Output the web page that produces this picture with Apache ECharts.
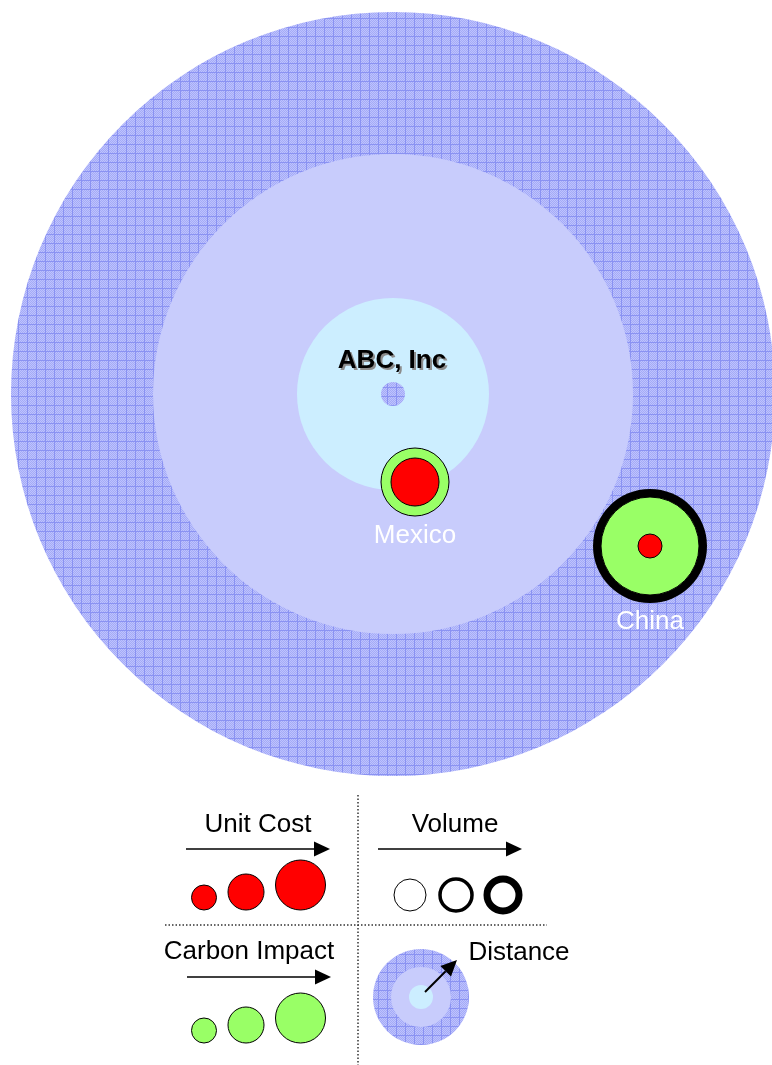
<!DOCTYPE html>
<html>
<head>
<meta charset="utf-8">
<script src="https://cdn.jsdelivr.net/npm/echarts@6/dist/echarts.min.js"></script>
<style>
  html, body { margin: 0; padding: 0; background: #fff; }
  #chart { width: 772px; height: 1065px; }
</style>
</head>
<body>
<div id="chart"></div>
<script>
// ---------------- data ----------------
// distance bands around the hub (radius in diagram units)
const bandRadius = [382, 240, 96, 12];
const hubName = 'ABC, Inc';

// suppliers
const siteNames = ['Mexico', 'China'];
const siteX = [22, 257];
const siteY = [-88, -152];
const carbonImpact = [34, 49];   // green circle radius
const unitCost = [24, 12];       // red circle radius
const volume = [1, 8];           // black ring width

// legend
const legendTitles = ['Unit Cost', 'Volume', 'Carbon Impact', 'Distance'];
const legendCost = [12.5, 18, 25];
const legendCarbon = [12.5, 18, 25];
const legendVolume = [1, 3.5, 7];
const legendDistance = [48, 30, 12];

// ---------------- styles ----------------
const FONT = '"Liberation Sans", Arial, sans-serif';

function hatch() {
  const step = 9;
  const c = document.createElement('canvas');
  c.width = c.height = step;
  const g = c.getContext('2d');
  g.fillStyle = '#bfc3fc';
  g.fillRect(0, 0, step, step);
  g.fillStyle = '#a3aaf8';
  for (let i = 0; i < step; i++)
    for (let j = 0; j < step; j++)
      if ((i + j) % 2 === 0) g.fillRect(i, j, 1, 1);
  g.fillStyle = '#8a92f2';
  g.fillRect(0, 0, step, 1);
  g.fillRect(0, 0, 1, step);
  return c;
}
const hatchFill = { image: hatch(), repeat: 'repeat' };
const bandFill = [hatchFill, '#c8ccfc', '#cceeff', hatchFill];

// ---------------- chart ----------------
const chart = echarts.init(document.getElementById('chart'));

const bandData = bandRadius.map((r, i) => [0, 0, r, i]);
const siteData = siteNames.map((n, i) => [siteX[i], siteY[i], carbonImpact[i], unitCost[i], volume[i]]);

function renderBand(params, api) {
  const c = api.coord([0, 0]);
  const r = api.size([api.value(2), 0])[0];
  return {
    type: 'circle',
    shape: { cx: c[0], cy: c[1], r: r },
    style: { fill: bandFill[api.value(3)] }
  };
}

function renderHub(params, api) {
  const c = api.coord([0, 0]);
  const base = { text: hubName, align: 'center', verticalAlign: 'middle', font: 'bold 26px ' + FONT };
  return {
    type: 'group',
    children: [
      { type: 'text', style: Object.assign({}, base, { x: c[0] + 1, y: c[1] - 31, fill: '#8c8c8c' }) },
      { type: 'text', style: Object.assign({}, base, { x: c[0] - 1, y: c[1] - 33, fill: '#000' }) }
    ]
  };
}

function renderSite(params, api) {
  const c = api.coord([api.value(0), api.value(1)]);
  const g = api.size([api.value(2), 0])[0];
  const red = api.size([api.value(3), 0])[0];
  const v = api.size([api.value(4), 0])[0];
  const kids = [];
  if (v > 1) {
    kids.push({ type: 'circle', shape: { cx: c[0], cy: c[1], r: g + v }, style: { fill: '#000' } });
  }
  kids.push({ type: 'circle', shape: { cx: c[0], cy: c[1], r: g }, style: { fill: '#99ff66', stroke: '#000', lineWidth: 1 } });
  kids.push({ type: 'circle', shape: { cx: c[0], cy: c[1], r: red }, style: { fill: '#ff0000', stroke: '#000', lineWidth: 1 } });
  kids.push({
    type: 'text',
    style: {
      text: siteNames[params.dataIndex], x: c[0], y: c[1] + g + Math.max(v, 1) + 19,
      align: 'center', verticalAlign: 'middle', font: '26px ' + FONT, fill: '#fff'
    }
  });
  return { type: 'group', children: kids };
}

function arrow(p0, p1, w) {
  const dx = p1[0] - p0[0], dy = p1[1] - p0[1];
  const len = Math.sqrt(dx * dx + dy * dy);
  const ux = dx / len, uy = dy / len;
  const hl = 16, hw = 7.5;
  const bx = p1[0] - ux * hl, by = p1[1] - uy * hl;
  return [
    { type: 'line', shape: { x1: p0[0], y1: p0[1], x2: bx, y2: by }, style: { stroke: '#000', lineWidth: w } },
    { type: 'polygon', shape: { points: [[p1[0], p1[1]], [bx - uy * hw, by + ux * hw], [bx + uy * hw, by - ux * hw]] }, style: { fill: '#000' } }
  ];
}

function renderLegend(params, api) {
  const p = (x, y) => api.coord([x, y]);
  const s = (d) => api.size([d, 0])[0];
  const kids = [];
  const title = (t, x, y) => {
    const q = p(x, y);
    kids.push({ type: 'text', style: { text: t, x: q[0], y: q[1], align: 'center', verticalAlign: 'middle', font: '26px ' + FONT, fill: '#000' } });
  };
  // separators
  const v0 = p(358, 5), v1 = p(358, 275), h0 = p(165, 135), h1 = p(547, 135);
  kids.push({ type: 'line', shape: { x1: v0[0], y1: v0[1], x2: v1[0], y2: v1[1] }, style: { stroke: '#333', lineWidth: 1.5, lineDash: [1.5, 2] } });
  kids.push({ type: 'line', shape: { x1: h0[0], y1: h0[1], x2: h1[0], y2: h1[1] }, style: { stroke: '#333', lineWidth: 1.5, lineDash: [1.5, 2] } });

  title(legendTitles[0], 258, 35);
  title(legendTitles[1], 455, 35);
  title(legendTitles[2], 249, 162);
  title(legendTitles[3], 519, 163);

  kids.push(...arrow(p(186, 59), p(330, 59), 1.5));
  kids.push(...arrow(p(378, 59), p(522, 59), 1.5));
  kids.push(...arrow(p(187, 187), p(331, 187), 1.5));

  // unit cost & carbon circles, bottom-aligned
  const row = (radii, bottom, fill) => {
    let left = 191.5;
    radii.forEach((r) => {
      const q = p(left + r, bottom - r);
      kids.push({ type: 'circle', shape: { cx: q[0], cy: q[1], r: s(r) }, style: { fill: fill, stroke: '#000', lineWidth: 1 } });
      left += 2 * r + 11.5;
    });
  };
  row(legendCost, 120, '#ff0000');
  row(legendCarbon, 253, '#99ff66');

  // volume rings
  const vx = [410, 456, 503];
  legendVolume.forEach((w, i) => {
    const q = p(vx[i], 105);
    kids.push({ type: 'circle', shape: { cx: q[0], cy: q[1], r: s(16) }, style: { fill: '#fff', stroke: '#000', lineWidth: s(w) } });
  });

  // distance icon
  const dc = p(421, 207);
  const dFill = [hatchFill, '#c8ccfc', '#cceeff'];
  legendDistance.forEach((r, i) => {
    kids.push({ type: 'circle', shape: { cx: dc[0], cy: dc[1], r: s(r) }, style: { fill: dFill[i] } });
  });
  kids.push(...arrow(p(425, 202), p(457, 170), 2));

  return { type: 'group', children: kids };
}

chart.setOption({
  animation: false,
  backgroundColor: '#fff',
  grid: [
    { left: 0, top: 0, width: 772, height: 790 },
    { left: 0, top: 790, width: 772, height: 275 }
  ],
  xAxis: [
    { type: 'value', gridIndex: 0, min: -393, max: 379, show: false },
    { type: 'value', gridIndex: 1, min: 0, max: 772, show: false }
  ],
  yAxis: [
    { type: 'value', gridIndex: 0, min: -396, max: 394, show: false },
    { type: 'value', gridIndex: 1, min: 0, max: 275, inverse: true, show: false }
  ],
  series: [
    { type: 'custom', xAxisIndex: 0, yAxisIndex: 0, data: bandData, encode: { x: 0, y: 1 }, renderItem: renderBand, silent: true },
    { type: 'custom', xAxisIndex: 0, yAxisIndex: 0, data: [[0, 0]], encode: { x: 0, y: 1 }, renderItem: renderHub, silent: true },
    { type: 'custom', xAxisIndex: 0, yAxisIndex: 0, data: siteData, encode: { x: 0, y: 1 }, renderItem: renderSite, silent: true },
    { type: 'custom', xAxisIndex: 1, yAxisIndex: 1, data: [[0, 0]], encode: { x: 0, y: 1 }, renderItem: renderLegend, silent: true }
  ]
});
</script>
</body>
</html>
